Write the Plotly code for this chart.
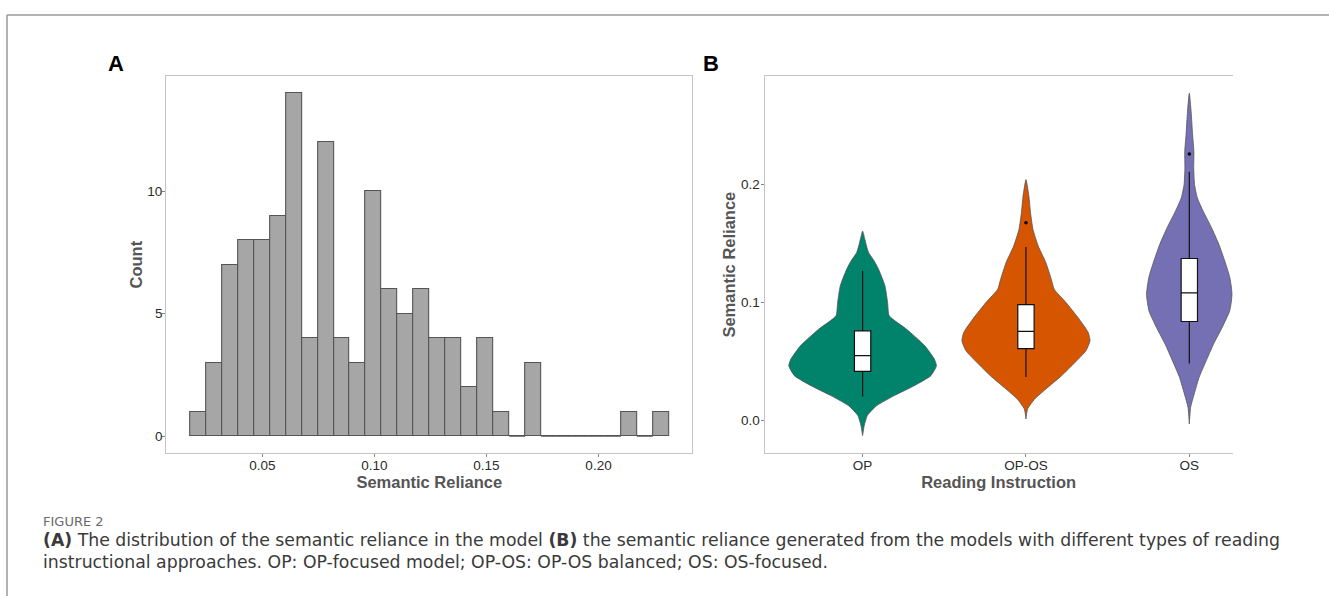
import plotly.graph_objects as go

# ---------------- Data ----------------
# Panel A: histogram of semantic reliance (30 bins)
hist_bin_start = 0.01775
hist_bin_width = 0.00712
hist_counts = [1, 3, 7, 8, 8, 9, 14, 4, 12, 4, 3, 10, 6, 5, 6, 4, 4, 2, 4, 1,
               0, 3, 0, 0, 0, 0, 0, 1, 0, 1]
hist_xticks = [0.05, 0.10, 0.15, 0.20]
hist_yticks = [0, 5, 10]

# Panel B: violin + box per reading instruction
groups = ["OP", "OP-OS", "OS"]
group_colors = ["#00836A", "#D55500", "#7570B3"]

op_vals = [0.1606, 0.1536, 0.1480, 0.1423, 0.1353, 0.1282, 0.1141, 0.1001, 0.0888, 0.0775,
           0.0634, 0.0522, 0.0465, 0.0381, 0.0296, 0.0212, 0.0127, 0.0043, -0.0042, -0.0127]
op_dens = [0, 0.014, 0.024, 0.037, 0.071, 0.098, 0.137, 0.153, 0.163, 0.269,
           0.381, 0.439, 0.452, 0.418, 0.316, 0.194, 0.086, 0.029, 0.010, 0]

oppos_vals = [0.2043, 0.1902, 0.1761, 0.1620, 0.1480, 0.1339, 0.1198, 0.1113, 0.1001,
              0.0860, 0.0747, 0.0676, 0.0592, 0.0493, 0.0381, 0.0268, 0.0183, 0.0099, 0.0014]
oppos_dens = [0, 0.018, 0.028, 0.043, 0.075, 0.122, 0.155, 0.173, 0.245,
              0.326, 0.381, 0.392, 0.367, 0.300, 0.218, 0.122, 0.053, 0.010, 0]

os_vals = [0.2776, 0.2620, 0.2424, 0.2282, 0.2142, 0.2001, 0.1888, 0.1775, 0.1635, 0.1494,
           0.1353, 0.1212, 0.1071, 0.0930, 0.0790, 0.0648, 0.0507, 0.0367, 0.0226, 0.0113, -0.0028]
os_dens = [0, 0.011, 0.020, 0.028, 0.027, 0.032, 0.049, 0.085, 0.136, 0.181,
           0.217, 0.248, 0.262, 0.247, 0.201, 0.148, 0.103, 0.060, 0.030, 0.008, 0]

box_q1 = [0.0417, 0.0610, 0.0840]
box_median = [0.0551, 0.0756, 0.1082]
box_q3 = [0.0761, 0.0983, 0.1374]
box_lower = [0.0204, 0.0370, 0.0485]
box_upper = [0.1268, 0.1471, 0.2110]
outlier_group = [1, 2]
outlier_vals = [0.1677, 0.2260]
violin_yticks = [0.0, 0.1, 0.2]

caption_head = "FIGURE 2"
caption_line1 = ("<b>(A)</b> The distribution of the semantic reliance in the model <b>(B)</b> the semantic "
                 "reliance generated from the models with different types of reading")
caption_line2 = "instructional approaches. OP: OP-focused model; OP-OS: OP-OS balanced; OS: OS-focused."

# ---------------- Figure ----------------
W, H = 1329, 596
fig = go.Figure()

# Histogram bars
bin_centers = [hist_bin_start + (i + 0.5) * hist_bin_width for i in range(len(hist_counts))]
fig.add_trace(go.Bar(
    x=bin_centers, y=hist_counts, width=hist_bin_width,
    marker=dict(color="#A6A6A6", line=dict(color="#555555", width=1.1)),
    xaxis="x", yaxis="y", showlegend=False, hoverinfo="x+y"))

# zero-count bins drawn as baseline segments
zx, zy = [], []
for i, c in enumerate(hist_counts):
    if c == 0:
        left = hist_bin_start + i * hist_bin_width
        zx += [left, left + hist_bin_width, None]
        zy += [0, 0, None]
fig.add_trace(go.Scatter(x=zx, y=zy, mode="lines", line=dict(color="#555555", width=1.1),
                         xaxis="x", yaxis="y", showlegend=False, hoverinfo="skip"))

# Violins (base subplot x2/y2)
profiles = [(op_vals, op_dens), (oppos_vals, oppos_dens), (os_vals, os_dens)]
for gi, (vals, dens) in enumerate(profiles):
    xs = [gi + d for d in dens] + [gi - d for d in reversed(dens)]
    ys = list(vals) + list(reversed(vals))
    fig.add_trace(go.Scatter(
        x=xs, y=ys, mode="lines", fill="toself", fillcolor=group_colors[gi],
        line=dict(color="#555555", width=0.8, shape="spline", smoothing=0.5),
        xaxis="x2", yaxis="y2", showlegend=False, name=groups[gi], hoverinfo="skip"))

# Boxes (overlay subplot x3/y3 so they sit on top of the violins)
for gi in range(len(groups)):
    fig.add_trace(go.Box(
        x=[gi], q1=[box_q1[gi]], median=[box_median[gi]], q3=[box_q3[gi]],
        lowerfence=[box_lower[gi]], upperfence=[box_upper[gi]],
        orientation="v", width=0.1, whiskerwidth=0, fillcolor="white",
        line=dict(color="#111111", width=1.2), boxpoints=False,
        xaxis="x3", yaxis="y3", showlegend=False, name=groups[gi]))

# Outliers
fig.add_trace(go.Scatter(
    x=outlier_group, y=outlier_vals, mode="markers",
    marker=dict(color="black", size=3.5),
    xaxis="x3", yaxis="y3", showlegend=False, hoverinfo="y"))

tick_font = dict(family="Liberation Sans, Arial", size=13.5, color="#2b2b2b")
title_font = dict(family="Liberation Sans, Arial", size=16.5, color="#555555", weight="bold")
axis_line = "#C4C4C4"

def px_x(p):
    return p / W

def px_y(p):
    return 1 - p / H

yA = [px_y(453.3), px_y(76)]
xB_range = [-0.6, 2.2656]
yB_range = [-0.0277, 0.2921]

fig.update_layout(
    width=W, height=H,
    margin=dict(l=0, r=0, t=0, b=0),
    paper_bgcolor="white", plot_bgcolor="white",
    bargap=0,
    xaxis=dict(domain=[px_x(166.2), px_x(692.4)], range=[0.00708, 0.2419],
               tickvals=hist_xticks, ticktext=["%.2f" % v for v in hist_xticks],
               ticks="outside", ticklen=3, tickcolor="#888888", tickfont=tick_font,
               ticklabelstandoff=-4,
               showgrid=False, zeroline=False, showline=True, linecolor=axis_line,
               linewidth=1.2, mirror=True,
               title=dict(text="Semantic Reliance", font=title_font, standoff=0),
               anchor="y"),
    yaxis=dict(domain=yA, range=[-0.7, 14.7], tickvals=hist_yticks,
               ticks="outside", ticklen=3, tickcolor="#888888", tickfont=tick_font,
               ticklabelstandoff=-3,
               showgrid=False, zeroline=False, showline=True, linecolor=axis_line,
               linewidth=1.2, mirror=True,
               title=dict(text="Count", font=title_font, standoff=0),
               anchor="x"),
    xaxis2=dict(domain=[px_x(764.6), px_x(1232.7)], range=xB_range,
                tickvals=[0, 1, 2], ticktext=groups,
                ticks="outside", ticklen=3, tickcolor="#888888", tickfont=tick_font,
                ticklabelstandoff=-4,
                showgrid=False, zeroline=False, showline=True, linecolor=axis_line,
                linewidth=1.2, mirror=True,
                title=dict(text="Reading Instruction", font=title_font, standoff=0),
                anchor="y2"),
    yaxis2=dict(domain=yA, range=yB_range, tickvals=violin_yticks,
                ticktext=["%.1f" % v for v in violin_yticks],
                ticks="outside", ticklen=3, tickcolor="#888888", tickfont=tick_font,
                ticklabelstandoff=-2,
                showgrid=False, zeroline=False, showline=True, linecolor=axis_line,
                linewidth=1.2, mirror=False,
                title=dict(text="Semantic Reliance", font=title_font, standoff=1),
                anchor="x2"),
    xaxis3=dict(overlaying="x2", range=xB_range, visible=False, anchor="y3"),
    yaxis3=dict(overlaying="y2", range=yB_range, visible=False, anchor="x3"),
    shapes=[
        dict(type="line", xref="paper", yref="paper", x0=px_x(7), x1=1, y0=px_y(15), y1=px_y(15),
             line=dict(color="#9a9a9a", width=1.5)),
        dict(type="line", xref="paper", yref="paper", x0=px_x(7), x1=px_x(7), y0=0, y1=px_y(15),
             line=dict(color="#9a9a9a", width=1.5)),
    ],
    annotations=[
        dict(text="<b>A</b>", xref="paper", yref="paper", x=px_x(115.5), y=px_y(63.5),
             xanchor="center", yanchor="middle", showarrow=False,
             font=dict(family="Liberation Sans, Arial", size=22, color="black")),
        dict(text="<b>B</b>", xref="paper", yref="paper", x=px_x(711), y=px_y(64),
             xanchor="center", yanchor="middle", showarrow=False,
             font=dict(family="Liberation Sans, Arial", size=22, color="black")),
        dict(text=caption_head, xref="paper", yref="paper", x=px_x(41), y=px_y(521.5),
             xanchor="left", yanchor="middle", showarrow=False,
             font=dict(family="DejaVu Sans", size=13, color="#6a6a6a")),
        dict(text=caption_line1, xref="paper", yref="paper", x=px_x(41), y=px_y(539.5),
             xanchor="left", yanchor="middle", showarrow=False,
             font=dict(family="DejaVu Sans", size=17.3, color="#3a3a3a")),
        dict(text=caption_line2, xref="paper", yref="paper", x=px_x(41), y=px_y(562),
             xanchor="left", yanchor="middle", showarrow=False,
             font=dict(family="DejaVu Sans", size=17.3, color="#3a3a3a")),
    ],
)

fig.write_html("out.html", config={"displayModeBar": False},
               post_script="document.body.style.margin='0px';")
